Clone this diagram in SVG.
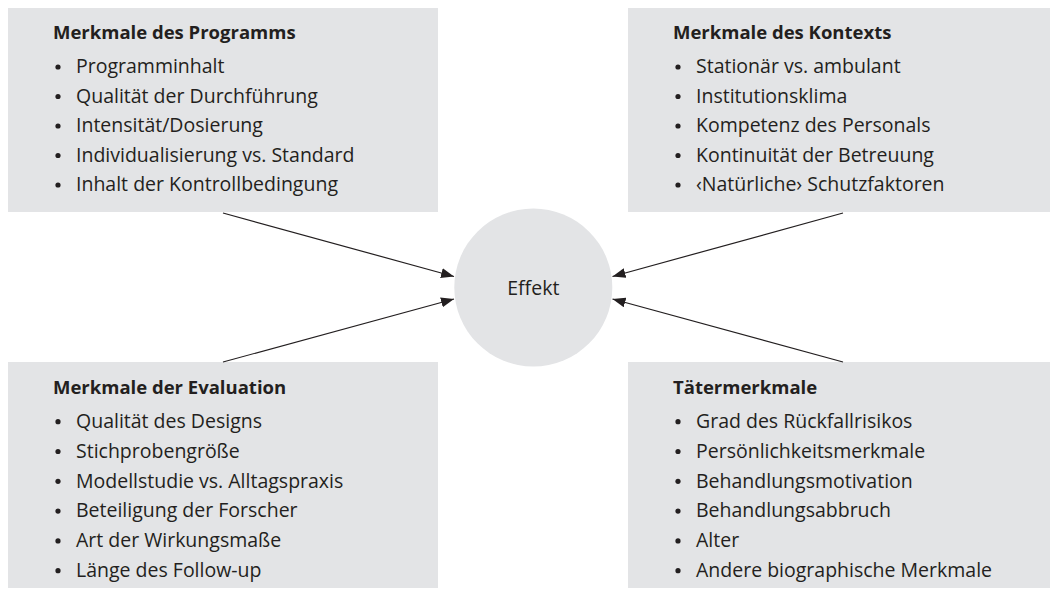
<svg xmlns="http://www.w3.org/2000/svg" width="1058" height="593" viewBox="0 0 1058 593">
  <defs>
    <style>
      .box { fill: #e3e4e6; }
      .title { font-family: "Open Sans", "Liberation Sans", sans-serif; font-weight: bold; font-size: 18.5px; fill: #231f20; }
      .item { font-family: "Open Sans", "Liberation Sans", sans-serif; font-size: 19.5px; fill: #231f20; }
      .dot { fill: #231f20; }
      .link { stroke: #231f20; stroke-width: 1.2; fill: none; marker-end: url(#arrow); }
    </style>
    <marker id="arrow" viewBox="0 0 13 10" refX="13" refY="5" markerWidth="13" markerHeight="10" markerUnits="userSpaceOnUse" orient="auto">
      <path d="M0,0 L13,5 L0,10 Z" fill="#231f20"/>
    </marker>
  </defs>
  <rect width="1058" height="593" fill="#ffffff"/>

  <!-- upper left: programme features -->
  <g id="programm">
    <rect class="box" x="8" y="8" width="430" height="204"/>
    <text class="title" x="53" y="38.5">Merkmale des Programms</text>
    <g class="dot">
      <circle cx="58" cy="67" r="2.6"/>
      <circle cx="58" cy="96.5" r="2.6"/>
      <circle cx="58" cy="126" r="2.6"/>
      <circle cx="58" cy="155.5" r="2.6"/>
      <circle cx="58" cy="185" r="2.6"/>
    </g>
    <text class="item" x="76" y="73.3">Programminhalt</text>
    <text class="item" x="76" y="102.8">Qualität der Durchführung</text>
    <text class="item" x="76" y="132.3">Intensität/Dosierung</text>
    <text class="item" x="76" y="161.8">Individualisierung vs. Standard</text>
    <text class="item" x="76" y="191.3">Inhalt der Kontrollbedingung</text>
  </g>

  <!-- upper right: context features -->
  <g id="kontext">
    <rect class="box" x="628" y="8" width="422" height="204"/>
    <text class="title" x="673" y="38.5">Merkmale des Kontexts</text>
    <g class="dot">
      <circle cx="678" cy="67" r="2.6"/>
      <circle cx="678" cy="96.5" r="2.6"/>
      <circle cx="678" cy="126" r="2.6"/>
      <circle cx="678" cy="155.5" r="2.6"/>
      <circle cx="678" cy="185" r="2.6"/>
    </g>
    <text class="item" x="696" y="73.3">Stationär vs. ambulant</text>
    <text class="item" x="696" y="102.8">Institutionsklima</text>
    <text class="item" x="696" y="132.3">Kompetenz des Personals</text>
    <text class="item" x="696" y="161.8">Kontinuität der Betreuung</text>
    <text class="item" x="696" y="191.3">‹Natürliche› Schutzfaktoren</text>
  </g>

  <!-- lower left: evaluation features -->
  <g id="evaluation">
    <rect class="box" x="8" y="362" width="430" height="226"/>
    <text class="title" x="53" y="394">Merkmale der Evaluation</text>
    <g class="dot">
      <circle cx="58" cy="421.7" r="2.6"/>
      <circle cx="58" cy="451.5" r="2.6"/>
      <circle cx="58" cy="481.3" r="2.6"/>
      <circle cx="58" cy="511.1" r="2.6"/>
      <circle cx="58" cy="540.9" r="2.6"/>
      <circle cx="58" cy="570.7" r="2.6"/>
    </g>
    <text class="item" x="76" y="428">Qualität des Designs</text>
    <text class="item" x="76" y="457.8">Stichprobengröße</text>
    <text class="item" x="76" y="487.6">Modellstudie vs. Alltagspraxis</text>
    <text class="item" x="76" y="517.4">Beteiligung der Forscher</text>
    <text class="item" x="76" y="547.2">Art der Wirkungsmaße</text>
    <text class="item" x="76" y="577">Länge des Follow-up</text>
  </g>

  <!-- lower right: offender features -->
  <g id="taeter">
    <rect class="box" x="628" y="362" width="422" height="226"/>
    <text class="title" x="673" y="394">Tätermerkmale</text>
    <g class="dot">
      <circle cx="678" cy="421.7" r="2.6"/>
      <circle cx="678" cy="451.5" r="2.6"/>
      <circle cx="678" cy="481.3" r="2.6"/>
      <circle cx="678" cy="511.1" r="2.6"/>
      <circle cx="678" cy="540.9" r="2.6"/>
      <circle cx="678" cy="570.7" r="2.6"/>
    </g>
    <text class="item" x="696" y="428">Grad des Rückfallrisikos</text>
    <text class="item" x="696" y="457.8">Persönlichkeitsmerkmale</text>
    <text class="item" x="696" y="487.6">Behandlungsmotivation</text>
    <text class="item" x="696" y="517.4">Behandlungsabbruch</text>
    <text class="item" x="696" y="547.2">Alter</text>
    <text class="item" x="696" y="577">Andere biographische Merkmale</text>
  </g>

  <!-- centre: effect -->
  <g id="effekt">
    <circle class="box" cx="533.3" cy="287.5" r="79"/>
    <text class="item" x="533.3" y="294.5" text-anchor="middle">Effekt</text>
  </g>

  <g id="connectors">
    <line class="link" x1="223" y1="213" x2="454" y2="276.5"/>
    <line class="link" x1="223" y1="362" x2="454" y2="299"/>
    <line class="link" x1="843" y1="213" x2="612.5" y2="276.5"/>
    <line class="link" x1="843" y1="362" x2="612.5" y2="299"/>
  </g>
</svg>
